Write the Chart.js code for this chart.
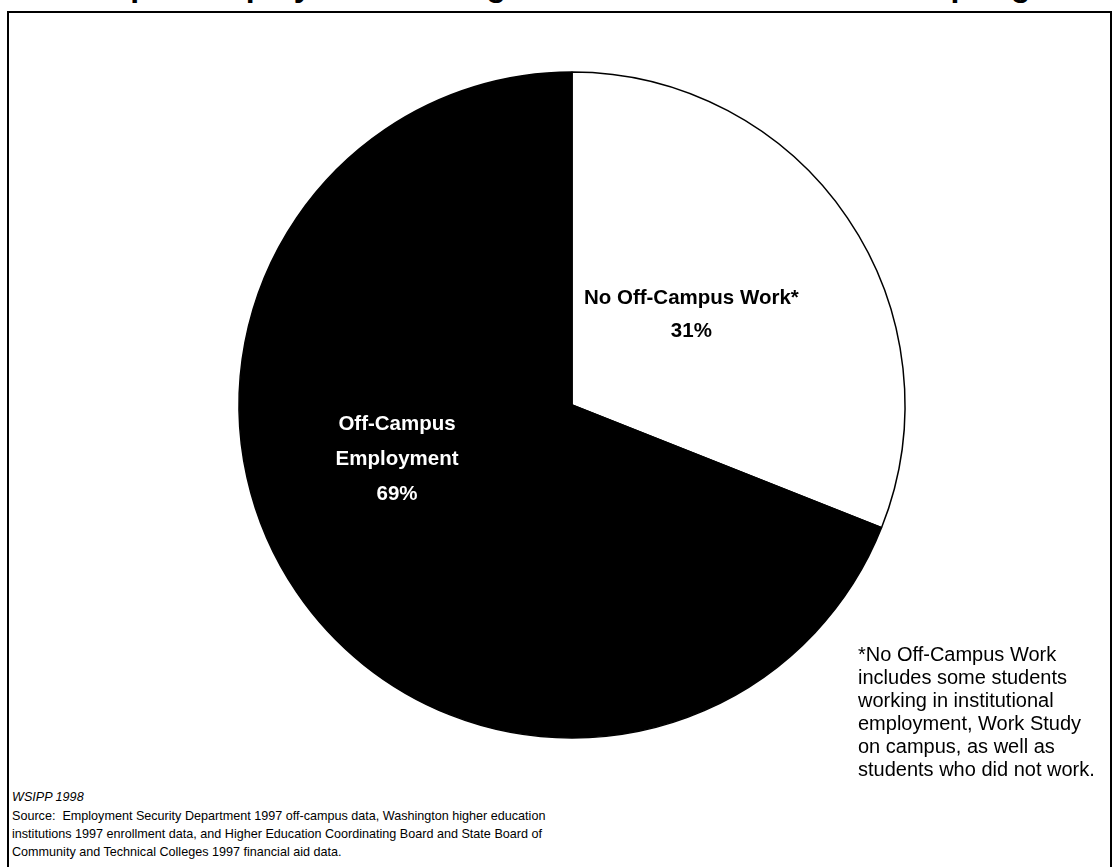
<!DOCTYPE html>
<html>
<head>
<meta charset="utf-8">
<script src="https://cdn.jsdelivr.net/npm/chart.js@4.4.1/dist/chart.umd.min.js"></script>
<style>
  html, body { margin: 0; padding: 0; background: #fff; }
  body { width: 1113px; height: 867px; position: relative; overflow: hidden;
         font-family: "Liberation Sans", Arial, sans-serif; color: #000; }
  #title { position: absolute; left: 4px; top: -31px; font-size: 32px; line-height: 32px;
           font-weight: bold; white-space: nowrap; }
  #frame { position: absolute; left: 7px; top: 11px; width: 1101px; height: 900px;
           border: 2px solid #000; }
  #pie-box { position: absolute; left: 222px; top: 55px; width: 700px; height: 700px; }
  #note { position: absolute; left: 858px; top: 643px; font-size: 20px; line-height: 23px; }
  #source { position: absolute; left: 12px; top: 788px; font-size: 12.6px; line-height: 18px; }
  #source i { display: block; line-height: 19px; }
</style>
</head>
<body>
<div id="title">Off-Campus Employment Among State Need Grant Students Spring 1997</div>
<div id="frame"></div>
<div id="pie-box"><canvas id="pie" width="700" height="700"></canvas></div>
<div id="note">*No Off-Campus Work<br>includes some students<br>working in institutional<br>employment, Work Study<br>on campus, as well as<br>students who did not work.</div>
<div id="source"><i>WSIPP 1998</i>Source:&nbsp; Employment Security Department 1997 off-campus data, Washington higher education<br>institutions 1997 enrollment data, and Higher Education Coordinating Board and State Board of<br>Community and Technical Colleges 1997 financial aid data.</div>
<script>
// work status shares, percent of students
const categories = [["No Off-Campus Work*"], ["Off-Campus", "Employment"]];
const shares = [31, 69];
const sliceColors = ["#ffffff", "#000000"];
const labelColors = ["#000000", "#ffffff"];

// where each label sits: fraction of radius, degrees added to the slice middle
const labelSpots = [
  { r: 0.45, turn: -3 },
  { r: 0.55, turn: 17 }
];

const sliceLabels = {
  id: "sliceLabels",
  afterDatasetsDraw(chart) {
    const ctx = chart.ctx;
    const arcs = chart.getDatasetMeta(0).data;
    ctx.save();
    ctx.textAlign = "center";
    ctx.textBaseline = "middle";
    ctx.font = "bold 20.5px 'Liberation Sans', Arial, sans-serif";
    arcs.forEach((arc, i) => {
      const { x, y, startAngle, endAngle, outerRadius } = arc.getProps(
        ["x", "y", "startAngle", "endAngle", "outerRadius"], true);
      const mid = (startAngle + endAngle) / 2 + labelSpots[i].turn * Math.PI / 180;
      const rr = outerRadius * labelSpots[i].r;
      const cx = x + Math.cos(mid) * rr;
      const cy = y + Math.sin(mid) * rr;
      const lines = [...categories[i], shares[i] + "%"];
      const lh = i === 0 ? 33 : 35;
      const top = cy - (lines.length - 1) * lh / 2;
      ctx.fillStyle = labelColors[i];
      lines.forEach((t, k) => ctx.fillText(t, cx, top + k * lh));
    });
    ctx.restore();
  }
};

new Chart(document.getElementById("pie"), {
  type: "pie",
  data: {
    labels: categories.map(c => c.join(" ")),
    datasets: [{
      data: shares,
      backgroundColor: sliceColors,
      borderColor: "#000000",
      borderWidth: 1.5
    }]
  },
  options: {
    responsive: false,
    animation: false,
    radius: 333,
    layout: { padding: 0 },
    plugins: {
      legend: { display: false },
      title: { display: false },
      tooltip: { enabled: false }
    }
  },
  plugins: [sliceLabels]
});
</script>
</body>
</html>
